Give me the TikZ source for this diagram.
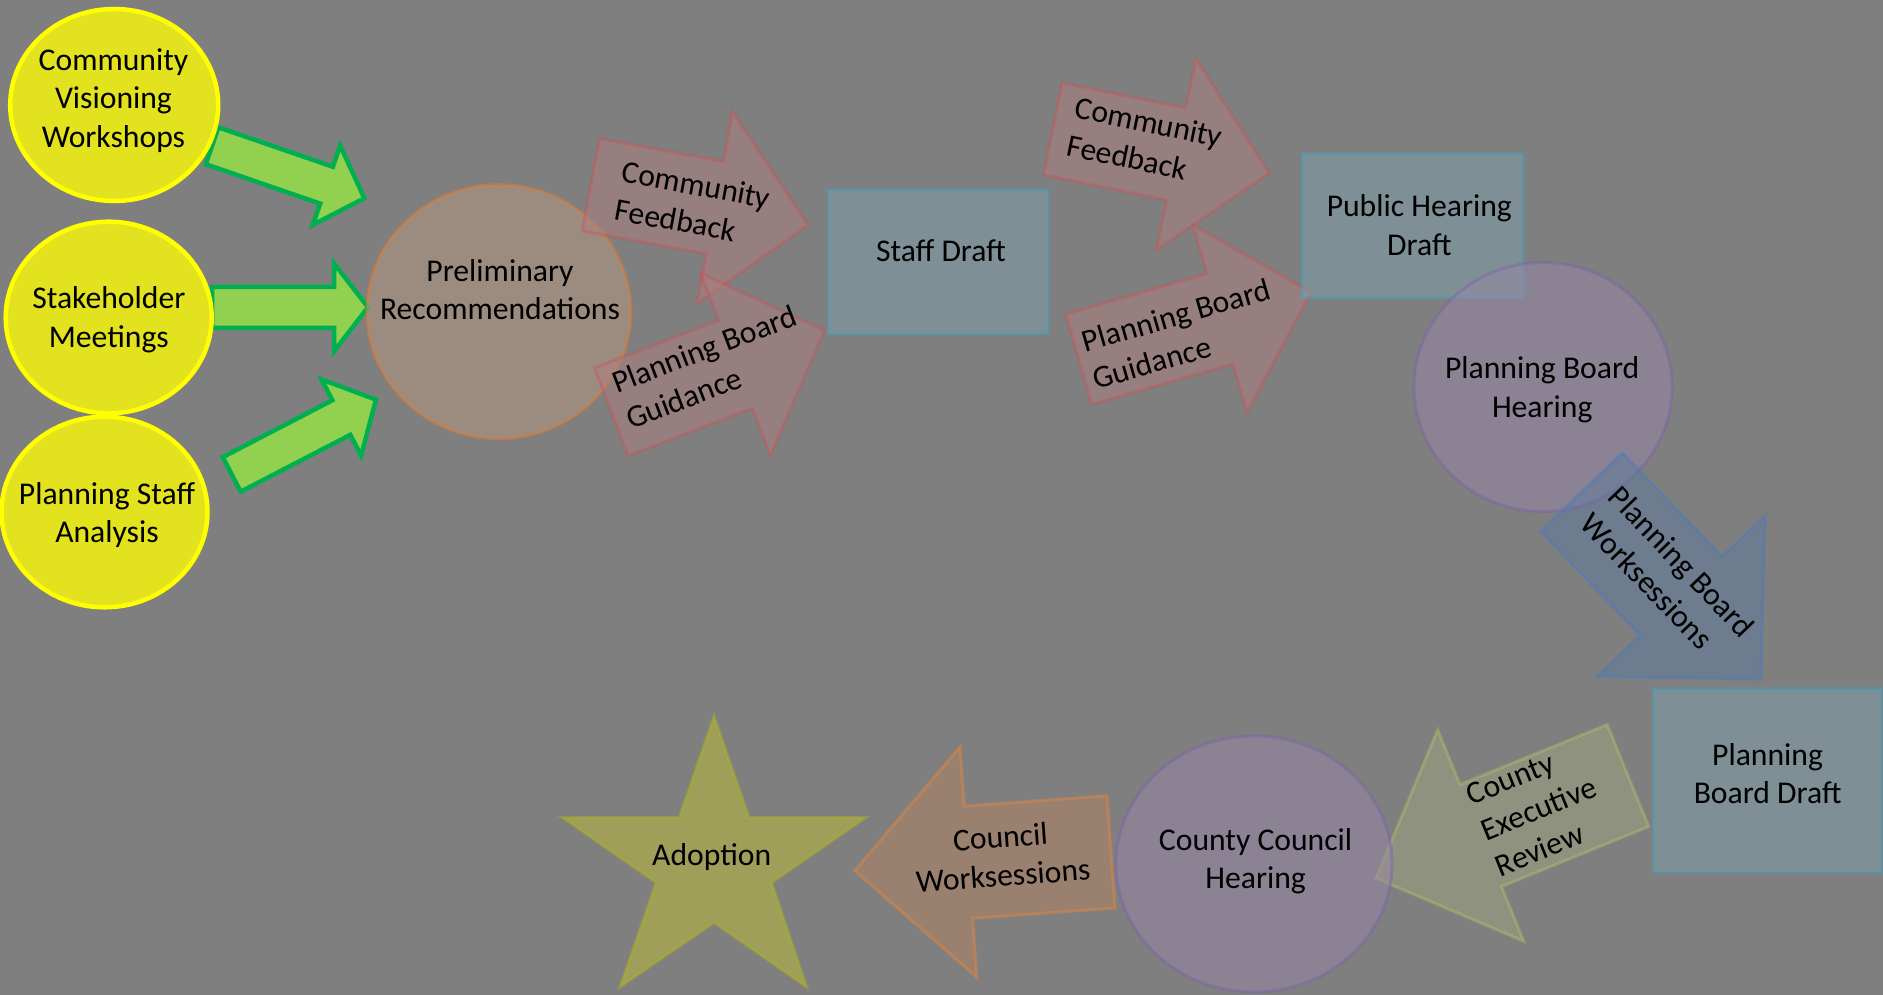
\documentclass[tikz,border=0pt]{standalone}
\usepackage{fontspec}
\setmainfont{Carlito}
\definecolor{bg}{RGB}{127,127,127}
\definecolor{ylwfill}{RGB}{226,226,30}
\definecolor{ylwline}{RGB}{255,255,0}
\definecolor{grnfill}{RGB}{146,208,80}
\definecolor{grnline}{RGB}{0,176,80}
\definecolor{orgfill}{RGB}{186,154,128}
\definecolor{orgline}{RGB}{242,122,32}
\definecolor{redfill}{RGB}{176,126,128}
\definecolor{redline}{RGB}{202,82,82}
\definecolor{aquafill}{RGB}{126,162,172}
\definecolor{aqualine}{RGB}{62,162,192}
\definecolor{purpfill}{RGB}{152,136,168}
\definecolor{purpline}{RGB}{122,92,172}
\definecolor{bluefill}{RGB}{92,122,158}
\definecolor{blueline}{RGB}{72,122,192}
\definecolor{olivefill}{RGB}{158,166,126}
\definecolor{oliveline}{RGB}{172,202,102}
\definecolor{brownfill}{RGB}{182,132,96}
\definecolor{brownline}{RGB}{242,132,52}
\definecolor{starfill}{RGB}{192,192,52}
\definecolor{starline}{RGB}{172,182,22}
% invisible strut fixing the top of a multi-line label 8pt above its first baseline
\newcommand\topln{\rule{0pt}{8pt}}
% block arrow pointing along +x, tail at the origin: style, length, shaft half-width, head half-width, head length
\newcommand\fwdarrow[5]{%
  \path[#1] (0,-#3) -- ({#2-#5},-#3) -- ({#2-#5},-#4) -- (#2,0) -- ({#2-#5},#4) -- ({#2-#5},#3) -- (0,#3) -- cycle;}
% block arrow pointing along -x, tip at the origin, tail at x = length
\newcommand\bwdarrow[5]{%
  \path[#1] (0,0) -- (#5,-#4) -- (#5,-#3) -- (#2,-#3) -- (#2,#3) -- (#5,#3) -- (#5,#4) -- cycle;}
\begin{document}
\begin{tikzpicture}[x=0.01cm,y=-0.01cm,
  every node/.style={inner sep=0pt, outer sep=0pt, text=black, font=\fontsize{9}{11}\selectfont},
  ctxt/.style={anchor=north, align=center},
  ltxt/.style={anchor=north west, align=left, transform shape},
  source/.style={fill=ylwfill, draw=ylwline, line width=0.045cm},
  feeder/.style={fill=grnfill, draw=grnline, line width=0.045cm},
  soft/.style={fill opacity=0.5, draw opacity=0.4, line width=0.03cm},
  prelimshape/.style={soft, fill=orgfill, draw=orgline},
  inputarrow/.style={soft, fill=redfill, draw=redline},
  draftbox/.style={soft, fill=aquafill, draw=aqualine},
  hearing/.style={soft, fill=purpfill, draw=purpline},
  boardarrow/.style={soft, fill=bluefill, draw=blueline},
  execarrow/.style={soft, fill=olivefill, draw=oliveline},
  councilarrow/.style={soft, fill=brownfill, draw=brownline},
  finalstar/.style={soft, fill=starfill, draw=starline}]

\useasboundingbox (0,0) rectangle (1883,995);
\fill[bg] (0,0) rectangle (1883,995);

% green feeder arrows
\begin{scope}[shift={(212.1,145.8)}, rotate=-19]
  \fwdarrow{feeder}{161}{19.5}{42}{40}
\end{scope}
\begin{scope}[shift={(212,307.3)}]
  \fwdarrow{feeder}{156}{20.5}{44}{34}
\end{scope}
\begin{scope}[shift={(231.7,474.4)}, rotate=27.4]
  \fwdarrow{feeder}{162.5}{19.5}{43}{39}
\end{scope}

% starting inputs
\draw[source] (114.2,105) ellipse [x radius=104, y radius=96];
\node[ctxt] (cvw) at (113.5,41.9) {\topln Community\\Visioning\\Workshops};
\draw[source] (108.7,317.5) ellipse [x radius=103, y radius=95.8];
\node[ctxt] (stake) at (108.8,280.2) {\topln Stakeholder\\Meetings};
\draw[source] (104.5,512) ellipse [x radius=103, y radius=95.3];
\node[ctxt] (psa) at (107,476.1) {\topln Planning Staff\\Analysis};

% preliminary recommendations
\draw[prelimshape] (498.8,311.7) ellipse [x radius=132, y radius=127];
\node[ctxt] (prelim) at (500,253) {\topln Preliminary\\Recommendations};

% first round of input
\begin{scope}[shift={(590.9,184.7)}, rotate=-10.5]
  \fwdarrow{inputarrow}{221}{47}{97.5}{95}
  \node[ltxt] (cf1) at (29,-36.7) {\topln Community\\Feedback};
\end{scope}
\begin{scope}[shift={(611.3,411.8)}, rotate=20.9]
  \fwdarrow{inputarrow}{228}{47}{97.5}{95}
  \node[ltxt] (pbg1) at (12,-43) {\topln Planning Board\\Guidance};
\end{scope}

% staff draft
\draw[draftbox] (828,190) rectangle (1048,334);
\node[anchor=base] (staff) at (941,261.7) {Staff Draft};

% second round of input
\begin{scope}[shift={(1052.8,128.8)}, rotate=-11.6]
  \fwdarrow{inputarrow}{221}{47}{97.5}{95}
  \node[ltxt] (cf2) at (18,-43.3) {\topln Community\\Feedback};
\end{scope}
\begin{scope}[shift={(1078.6,359.5)}, rotate=16.1]
  \fwdarrow{inputarrow}{242}{47}{97.5}{95}
  \node[ltxt] (pbg2) at (9,-32.9) {\topln Planning Board\\Guidance};
\end{scope}

% public hearing draft and planning board hearing
\draw[draftbox] (1302,154) rectangle (1523,298);
\node[ctxt] (phd) at (1419.3,188.6) {\topln Public Hearing\\Draft};
\draw[hearing] (1543,387) ellipse [x radius=129, y radius=124.5];
\node[ctxt] (pbh) at (1542.2,350.2) {\topln Planning Board\\Hearing};

% planning board worksessions
\begin{scope}[shift={(1581.5,492)}, rotate=-46.2]
  \fwdarrow{boardarrow}{259}{56.8}{116.5}{115}
  \node[ltxt] (pbw) at (22.5,-41.6) {\topln Planning Board\\Worksessions};
\end{scope}

% planning board draft
\draw[draftbox] (1653,689) rectangle (1881,872);
\node[ctxt] (pbd) at (1767.6,736.9) {\topln Planning\\Board Draft};

% county executive review
\begin{scope}[shift={(1376,878.2)}, rotate=22.16]
  \bwdarrow{execarrow}{272}{55}{114}{113}
  \node[ltxt] (cer) at (116,-59.4) {\topln County\\Executive\\Review};
\end{scope}

% county council hearing
\draw[hearing] (1254,864) ellipse [x radius=138, y radius=128];
\node[ctxt] (cch) at (1255.6,821.9) {\topln County Council\\Hearing};

% council worksessions
\begin{scope}[shift={(854.7,870.6)}, rotate=4.2]
  \bwdarrow{councilarrow}{257}{56.3}{115.5}{114}
  \node[ctxt, transform shape] (cw) at (147.7,-40.4) {\topln Council\\Worksessions};
\end{scope}

% adoption
\path[finalstar] (714,716) -- (749,817.3) -- (866,817.3) -- (771.7,882.7) -- (806.5,987)
  -- (714,922.7) -- (620,987) -- (656,882.7) -- (562,817.3) -- (679.3,817.3) -- cycle;
\node[anchor=base] (adopt) at (711.7,865.7) {Adoption};

\end{tikzpicture}
\end{document}
